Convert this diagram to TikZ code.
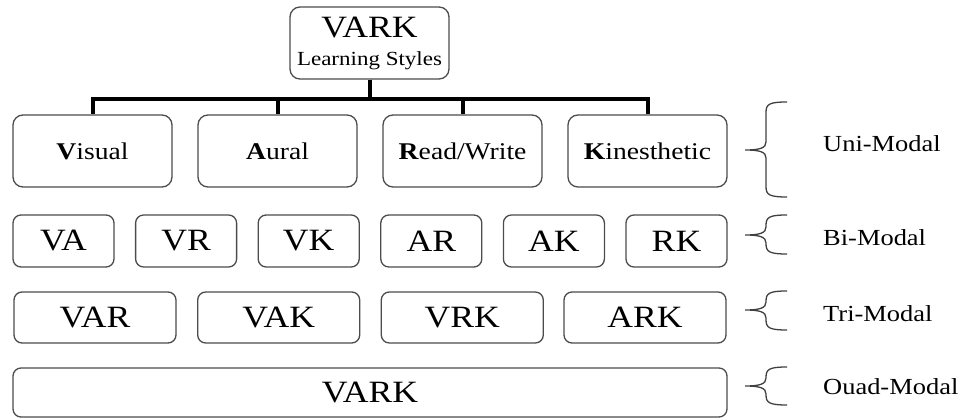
\documentclass[tikz,border=0pt]{standalone}
\usepackage{fontspec}
\setmainfont[FakeStretch=1.15]{Liberation Serif}
\tikzstyle{box}=[draw=black!70, line width=1.3pt, rounded corners=10pt, inner sep=0pt, align=center]
\tikzstyle{unibox}=[box, minimum width=159pt, minimum height=72pt, font=\fontsize{24}{28}\selectfont]
\tikzstyle{combo}=[box, rounded corners=8pt, font=\fontsize{31}{31}\selectfont]
\tikzstyle{conn}=[line width=4pt]
\tikzstyle{modal}=[inner sep=0pt, anchor=base west, font=\fontsize{23}{23}\selectfont]
\tikzstyle{bracel}=[line width=1.3pt, black!75]
% brace: top, tip, bottom
\newcommand{\modbrace}[3]{%
  \draw[bracel] (787,#1) .. controls (770,#1) and (766,#1+2) .. (766,#1+10)
    -- (766,#2-8) .. controls (766,#2-2) and (760,#2) .. (745,#2)
    .. controls (760,#2) and (766,#2+2) .. (766,#2+8)
    -- (766,#3-10) .. controls (766,#3-2) and (770,#3) .. (787,#3);}

\begin{document}
\begin{tikzpicture}[x=1pt, y=-1pt]
        \useasboundingbox (0,0) rectangle (964,419);
        % top box
        \node[box, minimum width=159pt, minimum height=72pt, font=\fontsize{31}{28}\selectfont] (vark) at (369.5,43) {VARK\\{\fontsize{20}{28}\selectfont Learning Styles}};

        % Uni-Modal
        \node[unibox] (vis) at (92.5,151) {\textbf{V}isual};
        \node[unibox] (aur) at (277.5,151) {\textbf{A}ural};
        \node[unibox] (rw) at (462.5,151) {\textbf{R}ead/Write};
        \node[unibox] (kin) at (647.5,151) {\textbf{K}inesthetic};
        \draw[conn] (vark.south) -- ++(0,19) -| (vis.north);
        \draw[conn] (vark.south) -- ++(0,19) -| (aur.north);
        \draw[conn] (vark.south) -- ++(0,19) -| (rw.north);
        \draw[conn] (vark.south) -- ++(0,19) -| (kin.north);

        % Bi-Modal
        \node[combo, minimum width=101pt, minimum height=52pt] (va) at (63.5,241) {VA};
        \node[combo, minimum width=101pt, minimum height=52pt] (vr) at (186.1,241) {VR};
        \node[combo, minimum width=101pt, minimum height=52pt] (vk) at (308.7,241) {VK};
        \node[combo, minimum width=101pt, minimum height=52pt] (ar) at (431.3,241) {AR};
        \node[combo, minimum width=101pt, minimum height=52pt] (ak) at (553.9,241) {AK};
        \node[combo, minimum width=101pt, minimum height=52pt] (rk) at (676.5,241) {RK};

        % Tri-Modal
        \node[combo, minimum width=162pt, minimum height=51pt] (var) at (95,317.5) {VAR};
        \node[combo, minimum width=162pt, minimum height=51pt] (vak) at (278.7,317.5) {VAK};
        \node[combo, minimum width=162pt, minimum height=51pt] (vrk) at (462.3,317.5) {VRK};
        \node[combo, minimum width=162pt, minimum height=51pt] (ark) at (645,317.5) {ARK};

        % Quad-Modal
        \node[combo, minimum width=714pt, minimum height=49pt] (all) at (370,392.5) {VARK};

        % braces and labels
        \modbrace{102}{150}{197}
        \modbrace{215}{235}{254}
        \modbrace{291}{310}{330}
        \modbrace{367}{386}{405}
        \node[modal] (unilbl) at (823,152) {Uni-Modal};
        \node[modal] (bilbl) at (823,246) {Bi-Modal};
        \node[modal] (trilbl) at (823,322) {Tri-Modal};
        \node[modal] (quadlbl) at (823,395) {Ouad-Modal};
    \end{tikzpicture}
\end{document}
